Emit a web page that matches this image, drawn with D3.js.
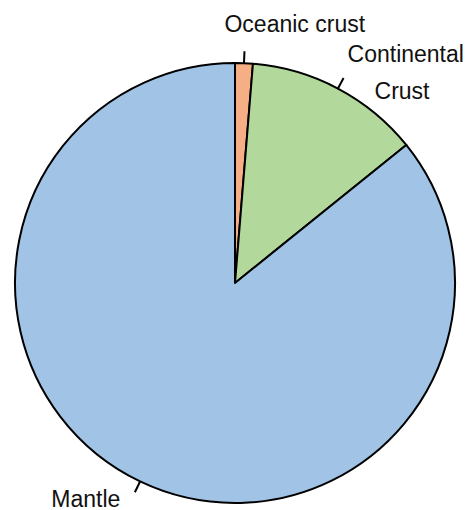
<!DOCTYPE html>
<html>
<head>
  <meta charset="utf-8">
  <script src="https://d3js.org/d3.v7.min.js"></script>
  <style>
    body { margin: 0; background: #fff; }
    text { font-family: "Liberation Sans", Arial, sans-serif; font-size: 23px; fill: #111; }
  </style>
</head>
<body>
<script>
  // share of the earth's silicate mass (%)
  var parts = ["Oceanic crust", "Continental Crust", "Mantle"];
  var shares = [1.3, 12.9, 85.8];
  var colors = ["#f6ae84", "#b3d89c", "#a1c4e6"];
  // label lines per slice
  var labelLines = [["Oceanic crust"], ["Continental", "Crust"], ["Mantle"]];

  var width = 470, height = 510;
  var cx = 235, cy = 283, r = 220;

  var svg = d3.select("body").append("svg")
    .attr("width", width)
    .attr("height", height);

  var g = svg.append("g")
    .attr("transform", "translate(" + cx + "," + cy + ")");

  var pie = d3.pie().sort(null).value(function(d, i) { return shares[i]; });
  var arcs = pie(parts);

  var arc = d3.arc().innerRadius(0).outerRadius(r);

  g.selectAll("path.slice")
    .data(arcs)
    .enter().append("path")
    .attr("class", "slice")
    .attr("d", arc)
    .style("fill", function(d, i) { return colors[i]; })
    .style("stroke", "#000")
    .style("stroke-width", 2)
    .style("stroke-linejoin", "round");

  // short leader ticks at the middle of each slice
  function pt(a, rad) {
    return [rad * Math.sin(a), -rad * Math.cos(a)];
  }
  arcs.forEach(function(d, i) {
    var mid = (d.startAngle + d.endAngle) / 2;
    var p0 = pt(mid, r), p1 = pt(mid, r + 12);
    g.append("line")
      .attr("x1", p0[0]).attr("y1", p0[1])
      .attr("x2", p1[0]).attr("y2", p1[1])
      .style("stroke", "#000")
      .style("stroke-width", 2);
  });

  // label offsets from tick end: [anchor, dx, dy] per line
  var offsets = [
    [["start", -20, -19]],
    [["start", 4, -16], ["start", 31, 21]],
    [["end", -14.5, 14.5]]
  ];
  arcs.forEach(function(d, i) {
    var mid = (d.startAngle + d.endAngle) / 2;
    var p1 = pt(mid, r + 12);
    labelLines[i].forEach(function(line, j) {
      var o = offsets[i][j];
      g.append("text")
        .attr("x", p1[0] + o[1])
        .attr("y", p1[1] + o[2])
        .attr("text-anchor", o[0])
        .text(line);
    });
  });
</script>
</body>
</html>
